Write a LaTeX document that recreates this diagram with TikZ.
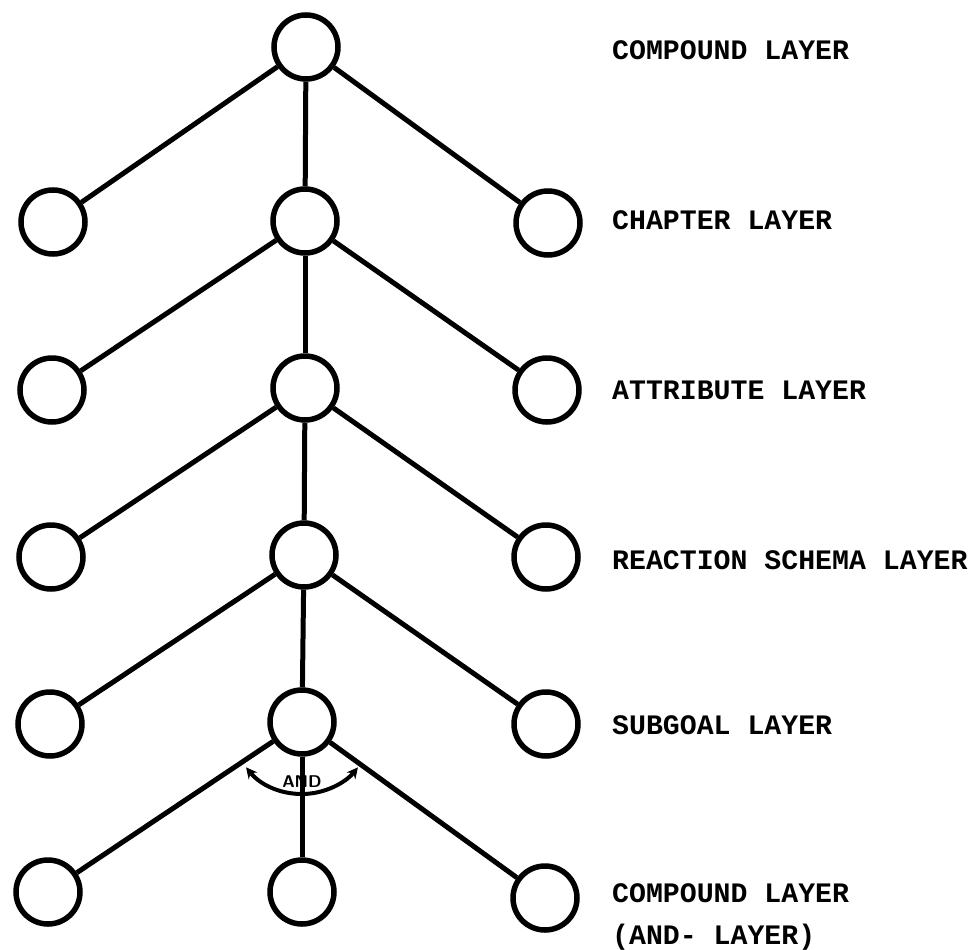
\documentclass[tikz,border=0pt]{standalone}
\usepackage{fontspec}
\newfontfamily\labelfont{Liberation Mono}
\usetikzlibrary{arrows.meta}
\tikzset{
  nd/.style={circle, draw, line width=5.5pt, minimum size=64pt, inner sep=0pt},
  edge/.style={line width=5pt},
  lay/.style={anchor=west, inner sep=0pt, font=\labelfont\bfseries\fontsize{28.2}{30}\selectfont},
}
\begin{document}
\begin{tikzpicture}[x=1pt,y=-1pt]
\useasboundingbox (0,0) rectangle (977,950);
% nodes
\node[nd] (t)  at (306,47) {};
\node[nd] (l2) at (53,222) {};
\node[nd] (c2) at (305,221) {};
\node[nd] (r2) at (548,223) {};
\node[nd] (l3) at (52,390) {};
\node[nd] (c3) at (305,388) {};
\node[nd] (r3) at (547,390) {};
\node[nd] (l4) at (51,557) {};
\node[nd] (c4) at (304,555) {};
\node[nd] (r4) at (546,557) {};
\node[nd] (l5) at (50,724) {};
\node[nd] (c5) at (302,722) {};
\node[nd] (r5) at (546,724) {};
\node[nd] (l6) at (48,892) {};
\node[nd] (c6) at (302,892) {};
\node[nd] (r6) at (545,898) {};
% edges
\foreach \p/\a/\b/\c in {t/l2/c2/r2, c2/l3/c3/r3, c3/l4/c4/r4, c4/l5/c5/r5, c5/l6/c6/r6}{
  \draw[edge] (\p) -- (\a);
  \draw[edge] (\p) -- (\b);
  \draw[edge] (\p) -- (\c);
}
% AND arc
\draw[line width=4pt, {Stealth[length=11pt,width=11pt]}-{Stealth[length=11pt,width=11pt]}]
  ([shift={(141:72)}]c5.center) arc[start angle=141, end angle=39, radius=72];
\node[inner sep=0pt, font=\sffamily\bfseries\fontsize{17}{18}\selectfont] (andlbl) at (302,782) {AND};
% labels
\node[lay] (L1) at (612,50) {COMPOUND LAYER};
\node[lay] (L2) at (612,220) {CHAPTER LAYER};
\node[lay] (L3) at (612,390) {ATTRIBUTE LAYER};
\node[lay] (L4) at (612,560) {REACTION SCHEMA LAYER};
\node[lay] (L5) at (612,725) {SUBGOAL LAYER};
\node[lay] (L6) at (612,893) {COMPOUND LAYER};
\node[lay] (L7) at (612,937) {(AND- LAYER)};
\end{tikzpicture}
\end{document}
